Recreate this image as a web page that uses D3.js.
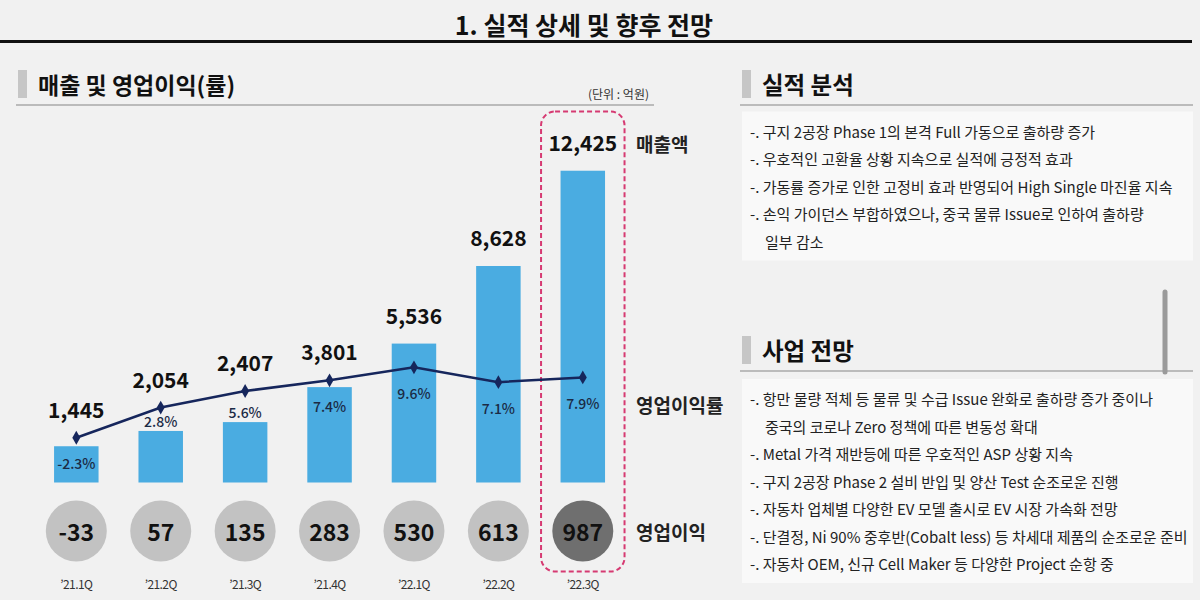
<!DOCTYPE html>
<html>
<head>
<meta charset="utf-8">
<script src="https://cdn.jsdelivr.net/npm/d3@7/dist/d3.min.js"></script>
<style>
  html, body { margin: 0; padding: 0; background: #f1f1f1; }
  svg { display: block; }
  text { font-family: "Noto Sans CJK KR", "Noto Sans", sans-serif; }
</style>
</head>
<body>
<svg id="chart" width="1200" height="600"></svg>
<script>
// ---------- data ----------
const quarters = ["’21.1Q", "’21.2Q", "’21.3Q", "’21.4Q", "’22.1Q", "’22.2Q", "’22.3Q"];
const sales = [1445, 2054, 2407, 3801, 5536, 8628, 12425];          // 매출액 (억원)
const opMargin = [-2.3, 2.8, 5.6, 7.4, 9.6, 7.1, 7.9];              // 영업이익률 (%)
const opProfit = [-33, 57, 135, 283, 530, 613, 987];                // 영업이익 (억원)

const pageTitle = "1. 실적 상세 및 향후 전망";
const chartTitle = "매출 및 영업이익(률)";
const unitLabel = "(단위 : 억원)";
const seriesLabels = ["매출액", "영업이익률", "영업이익"];

const analysisTitle = "실적 분석";
const analysisLines = [
  { t: "-. 구지 2공장 Phase 1의 본격 Full 가동으로 출하량 증가", indent: false },
  { t: "-. 우호적인 고환율 상황 지속으로 실적에 긍정적 효과", indent: false },
  { t: "-. 가동률 증가로 인한 고정비 효과 반영되어 High Single 마진율 지속", indent: false },
  { t: "-. 손익 가이던스 부합하였으나, 중국 물류 Issue로 인하여 출하량", indent: false },
  { t: "일부 감소", indent: true }
];
const outlookTitle = "사업 전망";
const outlookLines = [
  { t: "-. 항만 물량 적체 등 물류 및 수급 Issue 완화로 출하량 증가 중이나", indent: false },
  { t: "중국의 코로나 Zero 정책에 따른 변동성 확대", indent: true },
  { t: "-. Metal 가격 재반등에 따른 우호적인 ASP 상황 지속", indent: false },
  { t: "-. 구지 2공장 Phase 2 설비 반입 및 양산 Test 순조로운 진행", indent: false },
  { t: "-. 자동차 업체별 다양한 EV 모델 출시로 EV 시장 가속화 전망", indent: false },
  { t: "-. 단결정, Ni 90% 중후반(Cobalt less) 등 차세대 제품의 순조로운 준비", indent: false },
  { t: "-. 자동차 OEM, 신규 Cell Maker 등 다양한 Project 순항 중", indent: false }
];

// ---------- drawing ----------
const svg = d3.select("#chart");
const fmt = v => d3.format(",")(v).replace("−", "-");

// page title & rule
svg.append("text").attr("x", 584).attr("y", 24).attr("text-anchor", "middle")
  .attr("dominant-baseline", "central").attr("font-size", 25).attr("font-weight", 700)
  .attr("fill", "#111").text(pageTitle);
svg.append("line").attr("x1", 0).attr("x2", 1192).attr("y1", 41.5).attr("y2", 41.5)
  .attr("stroke", "#111").attr("stroke-width", 3);

// section header helper
function header(x, y, lineX2, title, size) {
  svg.append("rect").attr("x", x).attr("y", y).attr("width", 9).attr("height", 28).attr("fill", "#c6c6c6");
  svg.append("text").attr("x", x + 20).attr("y", y + 14).attr("dominant-baseline", "central")
    .attr("font-size", size).attr("font-weight", 700).attr("fill", "#111").text(title);
  svg.append("line").attr("x1", x - 2).attr("x2", lineX2).attr("y1", y + 35).attr("y2", y + 35)
    .attr("stroke", "#a8a8a8").attr("stroke-width", 1.5);
}
header(18, 70, 654, chartTitle, 23);
header(742, 70, 1193, analysisTitle, 23.5);
header(742, 336, 1193, outlookTitle, 23.5);

svg.append("text").attr("x", 649).attr("y", 93).attr("text-anchor", "end")
  .attr("dominant-baseline", "central").attr("font-size", 12).attr("fill", "#333").text(unitLabel);

// scroll-bar like mark
svg.append("line").attr("x1", 1165).attr("x2", 1165).attr("y1", 292).attr("y2", 372)
  .attr("stroke", "#9a9a9a").attr("stroke-width", 5).attr("stroke-linecap", "round");

// text boxes
function textBox(y0, lines) {
  const h = (lines.length - 1) * 27.5 + 39;
  svg.append("rect").attr("x", 742).attr("y", y0).attr("width", 451).attr("height", h).attr("fill", "#f9f9f9");
  svg.append("g").selectAll("text").data(lines).join("text")
    .attr("x", d => d.indent ? 765 : 750)
    .attr("y", (d, i) => y0 + 19.5 + i * 27.5)
    .attr("dominant-baseline", "central").attr("font-size", 15).attr("fill", "#222")
    .text(d => d.t);
}
textBox(111.5, analysisLines);
textBox(379, outlookLines);

// ---------- chart ----------
const x = d3.scaleBand().domain(quarters).range([34.1, 625]).paddingInner(0.473).paddingOuter(0.2365);
const ySales = d3.scaleLinear().domain([0, 14000]).range([482.5, 131.2]);
const yPct = d3.scaleLinear().domain([-5, 15]).range([453.7, 335.4]);
const cx = q => x(q) + x.bandwidth() / 2;

const data = quarters.map((q, i) => ({ q, s: sales[i], m: opMargin[i], p: opProfit[i], last: i === quarters.length - 1 }));

// dashed highlight around latest quarter
const lastQ = quarters[quarters.length - 1];
svg.append("rect")
  .attr("x", x(lastQ) - 19.5).attr("width", x.bandwidth() + 39)
  .attr("y", 111.5).attr("height", 460)
  .attr("rx", 14).attr("ry", 14)
  .attr("fill", "none").attr("stroke", "#d63a72").attr("stroke-width", 2)
  .attr("stroke-dasharray", "5,3");

// bars
svg.append("g").selectAll("rect").data(data).join("rect")
  .attr("x", d => x(d.q)).attr("width", x.bandwidth())
  .attr("y", d => ySales(d.s)).attr("height", d => ySales(0) - ySales(d.s))
  .attr("fill", "#4aace1");

// margin line
const line = d3.line().x(d => cx(d.q)).y(d => yPct(d.m));
svg.append("path").datum(data).attr("d", line)
  .attr("fill", "none").attr("stroke", "#16265c").attr("stroke-width", 2.5);
svg.append("g").selectAll("path").data(data).join("path")
  .attr("d", d3.symbol(d3.symbolDiamond, 55))
  .attr("transform", d => `translate(${cx(d.q)},${yPct(d.m)})`)
  .attr("fill", "#16265c");

// sales labels (above the higher of bar top / line point)
svg.append("g").selectAll("text").data(data).join("text")
  .attr("x", d => cx(d.q))
  .attr("y", d => Math.min(ySales(d.s), yPct(d.m)) - 29)
  .attr("text-anchor", "middle").attr("dominant-baseline", "central")
  .attr("font-size", 21).attr("font-weight", 700).attr("fill", "#111")
  .text(d => fmt(d.s));

// margin labels
svg.append("g").selectAll("text").data(data).join("text")
  .attr("x", d => cx(d.q))
  .attr("y", d => {
    const inside = yPct(d.m) + 25.5;
    return (inside - 8 > ySales(d.s)) ? inside : ySales(d.s) - 10;
  })
  .attr("text-anchor", "middle").attr("dominant-baseline", "central")
  .attr("font-size", 14).attr("font-weight", 500).attr("fill", "#1b2a45")
  .text(d => d.m.toFixed(1) + "%");

// operating profit circles
const circles = svg.append("g").selectAll("g").data(data).join("g")
  .attr("transform", d => `translate(${cx(d.q)},531)`);
circles.append("circle").attr("r", 30.5).attr("fill", d => d.last ? "#6f6f6f" : "#c2c2c2");
circles.append("text").attr("text-anchor", "middle").attr("dominant-baseline", "central")
  .attr("font-size", 23).attr("font-weight", 700).attr("fill", "#111")
  .text(d => fmt(d.p));

// quarter labels
svg.append("g").selectAll("text").data(data).join("text")
  .attr("x", d => cx(d.q)).attr("y", 583)
  .attr("text-anchor", "middle").attr("dominant-baseline", "central")
  .attr("font-size", 12).attr("letter-spacing", -0.6).attr("fill", "#333")
  .text(d => d.q);

// series labels on right
const labelY = [ySales(sales[sales.length - 1]) - 27, yPct(opMargin[opMargin.length - 1]) + 27.5, 531];
svg.append("g").selectAll("text").data(seriesLabels).join("text")
  .attr("x", 636).attr("y", (d, i) => labelY[i])
  .attr("dominant-baseline", "central")
  .attr("font-size", 19).attr("font-weight", 700).attr("fill", "#222")
  .text(d => d);
</script>
</body>
</html>
